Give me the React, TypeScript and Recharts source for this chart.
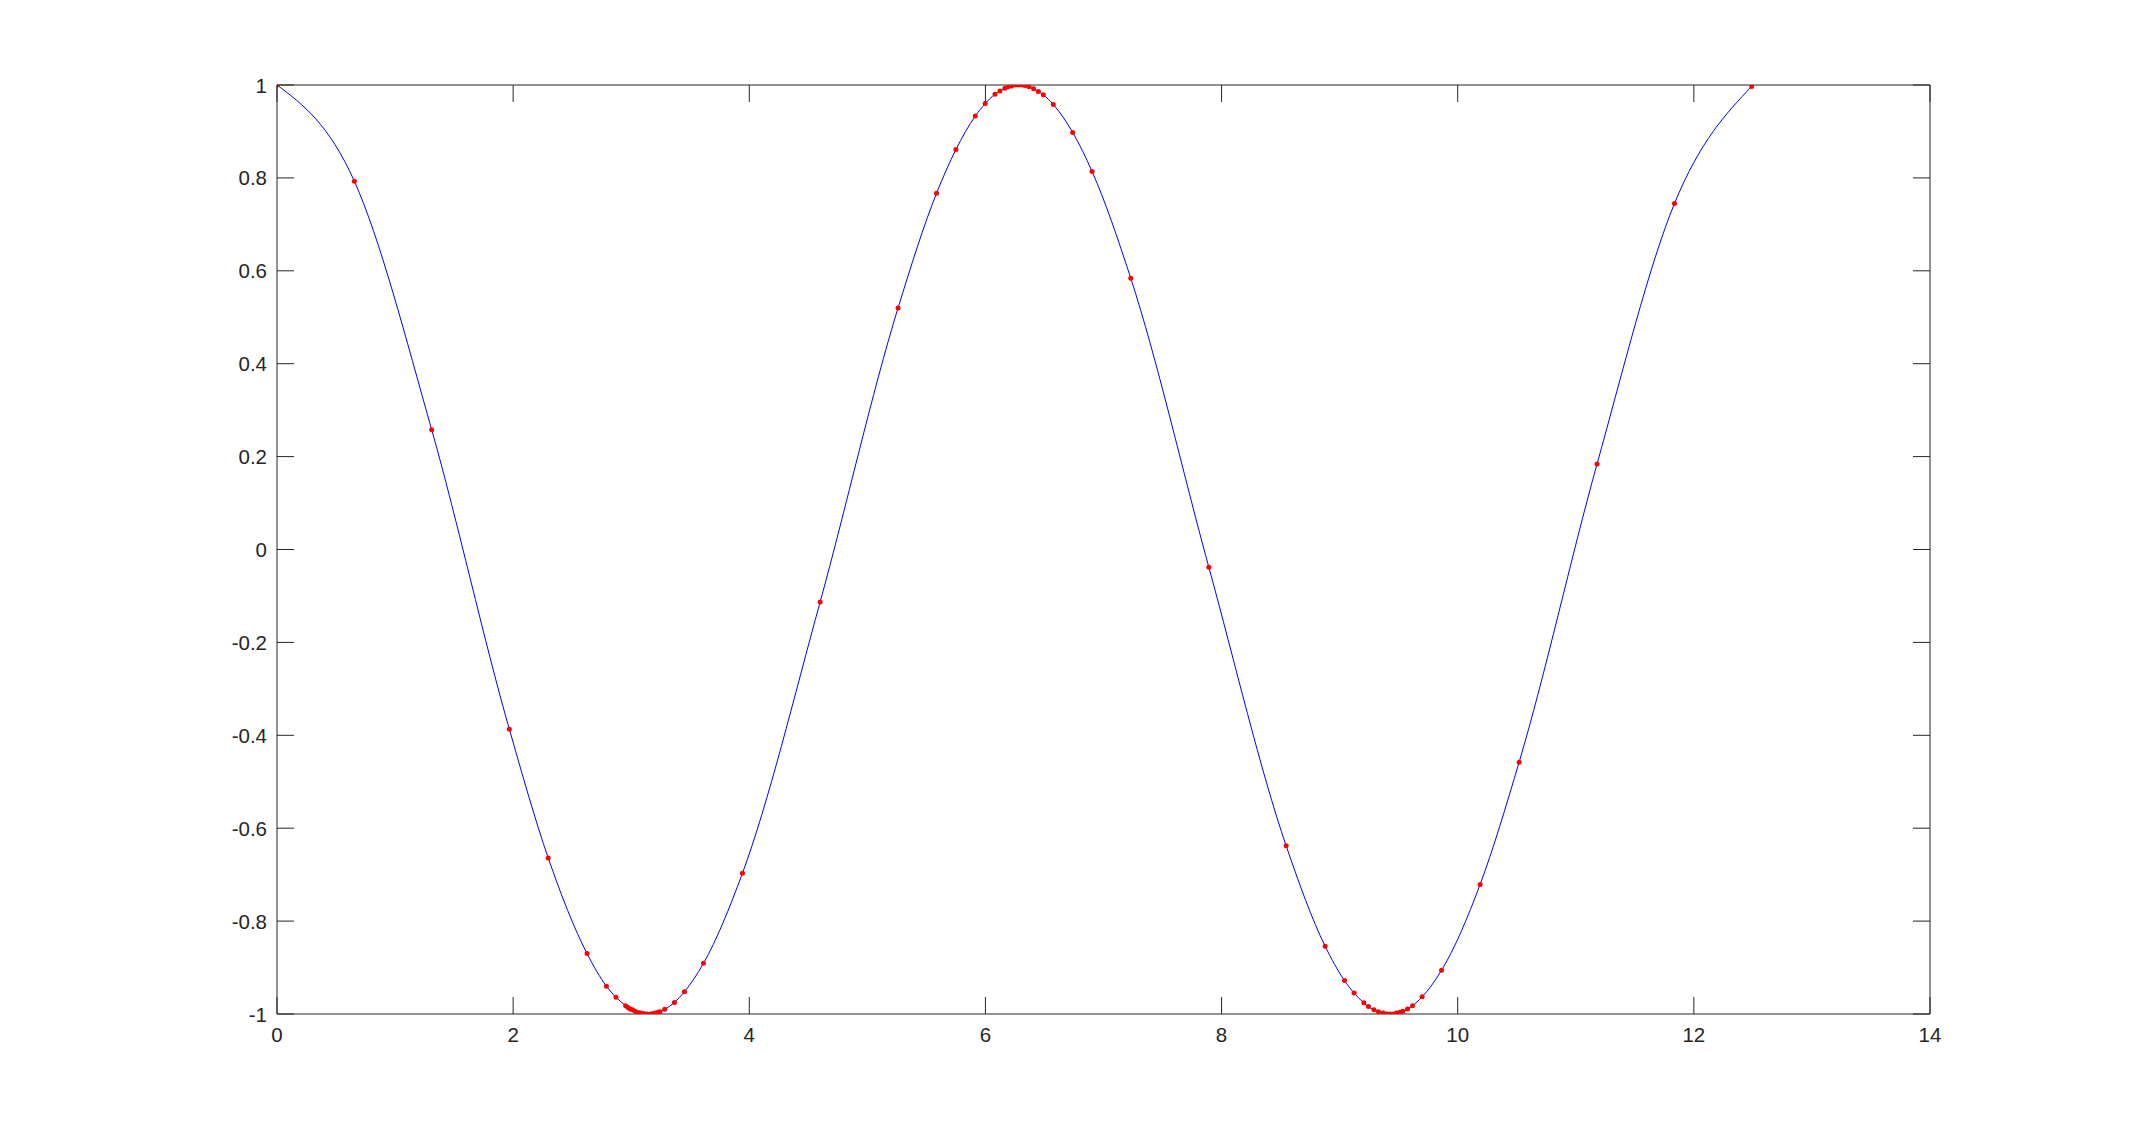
import React from 'react';
import { LineChart, Line, XAxis, YAxis } from 'recharts';

// sample points (red markers)
const xSamples = [
  0, 0.655, 1.31, 1.968, 2.297, 2.626, 2.79, 2.871, 2.953, 2.973, 2.99, 3.01, 3.032, 3.058, 3.08,
  3.106, 3.134, 3.165, 3.185, 3.208, 3.227, 3.244, 3.284, 3.366, 3.451, 3.612, 3.942, 4.6, 5.26,
  5.586, 5.75, 5.914, 5.998, 6.081, 6.123, 6.165, 6.193, 6.222, 6.256, 6.284, 6.312, 6.335, 6.369,
  6.408, 6.448, 6.49, 6.575, 6.739, 6.903, 7.231, 7.892, 8.547, 8.877, 9.041, 9.123, 9.205, 9.244,
  9.29, 9.329, 9.369, 9.397, 9.425, 9.453, 9.481, 9.51, 9.535, 9.575, 9.617, 9.699, 9.863, 10.19,
  10.52, 11.18, 11.836, 12.49,
];
const ySamples = [
  1, 0.793, 0.258, -0.387, -0.664, -0.87, -0.94, -0.964, -0.982, -0.986, -0.989, -0.991, -0.994,
  -0.997, -0.998, -0.999, -1, -1, -0.999, -0.998, -0.996, -0.995, -0.99, -0.975, -0.952, -0.891,
  -0.697, -0.113, 0.52, 0.767, 0.861, 0.933, 0.96, 0.98, 0.987, 0.993, 0.996, 0.998, 1, 1, 1,
  0.999, 0.996, 0.992, 0.986, 0.979, 0.958, 0.898, 0.814, 0.584, -0.038, -0.638, -0.854, -0.928,
  -0.955, -0.976, -0.984, -0.991, -0.995, -0.998, -1, -1, -1, -0.998, -0.996, -0.994, -0.989,
  -0.982, -0.963, -0.906, -0.721, -0.458, 0.184, 0.745, 0.997,
];

const xTicks = [0, 2, 4, 6, 8, 10, 12, 14];
const yTicks = [-1, -0.8, -0.6, -0.4, -0.2, 0, 0.2, 0.4, 0.6, 0.8, 1];

const data = xSamples.map((x, i) => ({ x, y: ySamples[i] }));

const AXIS = '#262626';
const FONT = '"Liberation Sans", Arial, Helvetica, sans-serif';
const FONT_SIZE = 20.5;
const TICK_LEN = 17;

// ticks point inward, MATLAB style
const BottomTick = (props: any) => {
  const { x, y, payload } = props;
  return (
    <g>
      <line x1={x} y1={y} x2={x} y2={y - TICK_LEN} stroke={AXIS} strokeWidth={1} />
      <text x={x} y={y + 28} textAnchor="middle" fill={AXIS} fontSize={FONT_SIZE} fontFamily={FONT}>
        {payload.value}
      </text>
    </g>
  );
};

const TopTick = (props: any) => {
  const { x, y } = props;
  return <line x1={x} y1={y} x2={x} y2={y + TICK_LEN} stroke={AXIS} strokeWidth={1} />;
};

const LeftTick = (props: any) => {
  const { x, y, payload } = props;
  return (
    <g>
      <line x1={x} y1={y} x2={x + TICK_LEN} y2={y} stroke={AXIS} strokeWidth={1} />
      <text x={x - 10} y={y + 7.5} textAnchor="end" fill={AXIS} fontSize={FONT_SIZE} fontFamily={FONT}>
        {payload.value}
      </text>
    </g>
  );
};

const RightTick = (props: any) => {
  const { x, y } = props;
  return <line x1={x} y1={y} x2={x - TICK_LEN} y2={y} stroke={AXIS} strokeWidth={1} />;
};

const RedDot = (props: any) => {
  const { cx, cy, index } = props;
  if (cx == null || cy == null) return null;
  return <circle key={`d-${index}`} cx={cx} cy={cy} r={2.5} fill="#ff0000" stroke="none" />;
};

export default function App() {
  return (
    <div style={{ position: 'absolute', left: 0, top: 0, width: 2132, height: 1138, background: '#fff' }}>
      <LineChart
        width={2132}
        height={1138}
        data={data}
        margin={{ top: 84, right: 201, bottom: 84, left: 217 }}
      >
        <XAxis
          dataKey="x"
          type="number"
          domain={[0, 14]}
          ticks={xTicks}
          interval={0}
          allowDataOverflow
          height={40}
          stroke={AXIS}
          tickLine={false}
          tickSize={0}
          tickMargin={0}
          tick={<BottomTick />}
        />
        <XAxis
          xAxisId="top"
          orientation="top"
          dataKey="x"
          type="number"
          domain={[0, 14]}
          ticks={xTicks}
          interval={0}
          allowDataOverflow
          height={1}
          stroke={AXIS}
          tickLine={false}
          tickSize={0}
          tickMargin={0}
          tick={<TopTick />}
        />
        <YAxis
          type="number"
          domain={[-1, 1]}
          ticks={yTicks}
          interval={0}
          allowDataOverflow
          width={60}
          stroke={AXIS}
          tickLine={false}
          tickSize={0}
          tickMargin={0}
          tick={<LeftTick />}
        />
        <YAxis
          yAxisId="right"
          orientation="right"
          type="number"
          domain={[-1, 1]}
          ticks={yTicks}
          interval={0}
          allowDataOverflow
          width={1}
          stroke={AXIS}
          tickLine={false}
          tickSize={0}
          tickMargin={0}
          tick={<RightTick />}
        />
        <Line
          dataKey="y"
          type="monotone"
          stroke="#0000ff"
          strokeWidth={1}
          dot={<RedDot />}
          activeDot={false}
          isAnimationActive={false}
        />
      </LineChart>
    </div>
  );
}
